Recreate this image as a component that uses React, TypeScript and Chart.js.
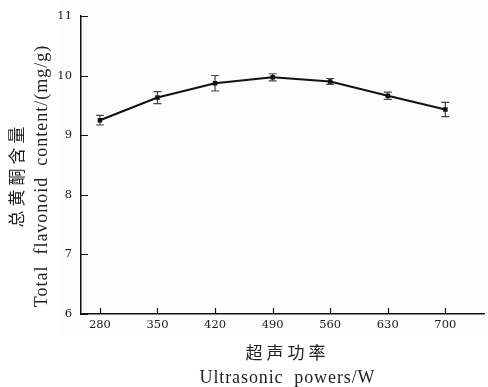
import React, { useEffect, useRef } from "react";
import { Chart, registerables } from "chart.js";

Chart.register(...registerables);

const powers = [280, 350, 420, 490, 560, 630, 700];
const flavonoid = [9.25, 9.63, 9.87, 9.97, 9.9, 9.66, 9.43];
const errors = [0.08, 0.1, 0.13, 0.06, 0.05, 0.06, 0.12];
const yTicks = [6, 7, 8, 9, 10, 11];

const xTitleCn = "超声功率";
const xTitleEn = "Ultrasonic  powers/W";
const yTitleCn = "总黄酮含量";
const yTitleEn = "Total  flavonoid  content/(mg/g)";

const SERIF = "'Liberation Serif', 'DejaVu Serif', 'Noto Sans CJK SC', serif";
const TICKFONT = "'DejaVu Serif', 'Liberation Serif', serif";
const CJK = "'Noto Sans CJK SC', 'Liberation Serif', serif";

const decorPlugin = {
  id: "decor",
  beforeDraw(chart: any) {
    const ctx = chart.ctx;
    ctx.save();
    ctx.fillStyle = "#fcfcfc";
    ctx.fillRect(60, 0, 428, 336);
    ctx.restore();
  },
  beforeDatasetsDraw(chart: any) {
    const ctx = chart.ctx;
    const xs = chart.scales.x;
    const ys = chart.scales.y;
    ctx.save();
    ctx.strokeStyle = "#444";
    ctx.lineWidth = 1.2;
    powers.forEach((p, i) => {
      const x = xs.getPixelForValue(p);
      const yTop = ys.getPixelForValue(flavonoid[i] + errors[i]);
      const yBot = ys.getPixelForValue(flavonoid[i] - errors[i]);
      ctx.beginPath();
      ctx.moveTo(x, yTop);
      ctx.lineTo(x, yBot);
      ctx.moveTo(x - 4, yTop);
      ctx.lineTo(x + 4, yTop);
      ctx.moveTo(x - 4, yBot);
      ctx.lineTo(x + 4, yBot);
      ctx.stroke();
    });
    ctx.restore();
  },
  afterDraw(chart: any) {
    const ctx = chart.ctx;
    const xs = chart.scales.x;
    const ys = chart.scales.y;
    const area = chart.chartArea;
    ctx.save();
    // inside tick marks
    ctx.strokeStyle = "#111";
    ctx.lineWidth = 1.2;
    ctx.beginPath();
    yTicks.forEach((v) => {
      const y = Math.round(ys.getPixelForValue(v)) + 0.5;
      ctx.moveTo(area.left, y);
      ctx.lineTo(area.left + 7, y);
    });
    powers.forEach((p) => {
      const x = Math.round(xs.getPixelForValue(p)) + 0.5;
      ctx.moveTo(x, area.bottom);
      ctx.lineTo(x, area.bottom - 6);
    });
    ctx.stroke();

    ctx.fillStyle = "#222";
    ctx.textAlign = "center";
    ctx.textBaseline = "middle";
    const cx = (area.left + area.right) / 2 + 3;
    // x titles
    ctx.font = `17px ${CJK}`;
    (ctx as any).letterSpacing = "4px";
    ctx.fillText(xTitleCn, cx + 2, 353);
    ctx.font = `18px ${SERIF}`;
    (ctx as any).letterSpacing = "0.9px";
    ctx.fillText(xTitleEn, cx + 2, 378);
    // y titles
    const cy = 175;
    ctx.translate(17, cy);
    ctx.rotate(-Math.PI / 2);
    ctx.font = `17px ${CJK}`;
    (ctx as any).letterSpacing = "4px";
    ctx.fillText(yTitleCn, 0, 0);
    ctx.restore();
    ctx.save();
    ctx.fillStyle = "#222";
    ctx.textAlign = "center";
    ctx.textBaseline = "middle";
    ctx.translate(42, cy + 1);
    ctx.rotate(-Math.PI / 2);
    ctx.font = `18px ${SERIF}`;
    (ctx as any).letterSpacing = "1px";
    ctx.fillText(yTitleEn, 0, 0);
    ctx.restore();
  },
};

export default function App() {
  const ref = useRef<HTMLCanvasElement | null>(null);
  useEffect(() => {
    if (!ref.current) return;
    const chart = new Chart(ref.current, {
      type: "line",
      data: {
        datasets: [
          {
            data: powers.map((p, i) => ({ x: p, y: flavonoid[i] })),
            borderColor: "#111",
            borderWidth: 2,
            backgroundColor: "#111",
            pointStyle: "rect",
            pointRadius: 3.2,
            pointBorderWidth: 0,
            tension: 0,
          },
        ],
      },
      options: {
        animation: false,
        responsive: false,
        layout: { padding: { top: 15, right: 0, left: 0, bottom: 0 } },
        plugins: { legend: { display: false }, tooltip: { enabled: false } },
        scales: {
          x: {
            type: "linear",
            min: 257,
            max: 747,
            grid: { display: false, drawTicks: false },
            border: { display: true, color: "#111", width: 1.5 },
            afterBuildTicks: (s: any) => {
              s.ticks = powers.map((v) => ({ value: v }));
            },
            afterFit: (s: any) => {
              s.height = 73;
            },
            ticks: {
              color: "#1a1a1a",
              padding: 4,
              maxRotation: 0,
              autoSkip: false,
              font: { family: TICKFONT, size: 11.5 },
              callback: (v: any) => String(v),
            },
          },
          y: {
            type: "linear",
            min: 6,
            max: 11,
            grid: { display: false, drawTicks: false },
            border: { display: true, color: "#111", width: 1.5 },
            afterBuildTicks: (s: any) => {
              s.ticks = yTicks.map((v) => ({ value: v }));
            },
            afterFit: (s: any) => {
              s.width = 81;
            },
            ticks: {
              color: "#1a1a1a",
              padding: 9,
              font: { family: TICKFONT, size: 11.5 },
              callback: (v: any) => String(v),
            },
          },
        },
      },
      plugins: [decorPlugin],
    });
    return () => chart.destroy();
  }, []);
  return (
    <div style={{ position: "fixed", left: 0, top: 0, width: 488, height: 387, background: "#fff" }}>
      <canvas ref={ref} width={488} height={387} style={{ width: 488, height: 387, display: "block" }} />
    </div>
  );
}
